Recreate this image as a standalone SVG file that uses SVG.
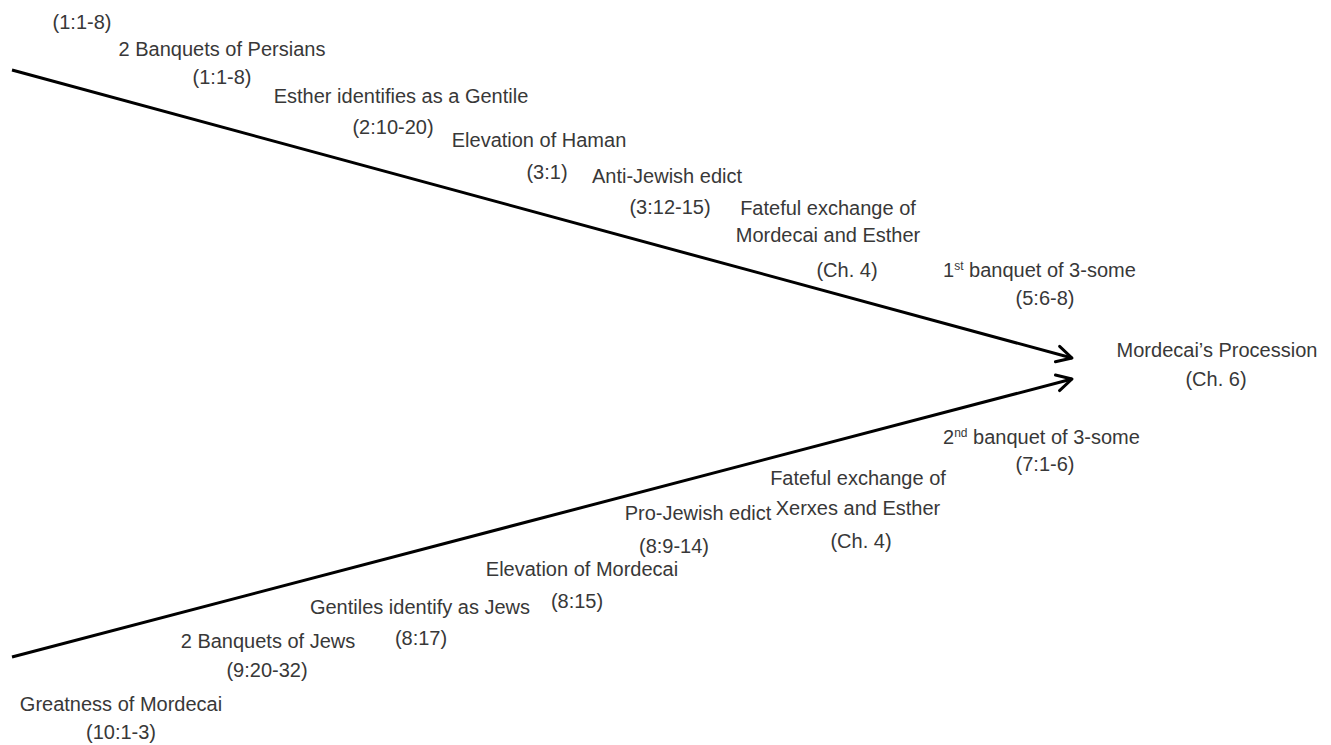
<svg xmlns="http://www.w3.org/2000/svg" width="1331" height="745" viewBox="0 0 1331 745">
<style>
text{font-family:"Liberation Sans",Arial,sans-serif;font-size:20px;fill:#383838;text-anchor:middle;}
.st{text-anchor:start;}
.ln{stroke:#000;stroke-width:3;fill:none;}
.sup{font-size:12px;}
</style>
<defs>
<marker id="arr" markerUnits="userSpaceOnUse" viewBox="-18 -10 20 20" refX="0" refY="0" markerWidth="20" markerHeight="20" orient="auto">
<path d="M-15,-8 L0,0 L-15,8" fill="none" stroke="#000" stroke-width="3" stroke-linecap="round" stroke-linejoin="round"/>
</marker>
</defs>
<rect width="1331" height="745" fill="#fff"/>
<g id="connectors">
<line class="ln" x1="12" y1="70" x2="1072" y2="358" marker-end="url(#arr)"/>
<line class="ln" x1="12" y1="657" x2="1072" y2="379" marker-end="url(#arr)"/>
</g>
<g id="n0"><text x="82" y="29">(1:1-8)</text></g>
<g id="n1"><text x="222" y="56">2 Banquets of Persians</text><text x="222" y="84">(1:1-8)</text></g>
<g id="n2"><text x="401" y="103">Esther identifies as a Gentile</text><text x="393" y="134">(2:10-20)</text></g>
<g id="n3"><text x="539" y="147">Elevation of Haman</text><text x="547" y="179">(3:1)</text></g>
<g id="n4"><text x="667" y="183">Anti-Jewish edict</text><text x="670" y="214">(3:12-15)</text></g>
<g id="n5"><text x="828" y="215">Fateful exchange of</text><text x="828" y="242">Mordecai and Esther</text><text x="847" y="277">(Ch. 4)</text></g>
<g id="n6"><text class="st" x="943" y="277">1<tspan class="sup" dy="-7">st</tspan><tspan dy="7"> banquet of 3-some</tspan></text><text x="1045" y="305">(5:6-8)</text></g>
<g id="n7"><text x="1217" y="357">Mordecai’s Procession</text><text x="1216" y="386">(Ch. 6)</text></g>
<g id="n8"><text class="st" x="943" y="444">2<tspan class="sup" dy="-7">nd</tspan><tspan dy="7"> banquet of 3-some</tspan></text><text x="1045" y="471">(7:1-6)</text></g>
<g id="n9"><text x="858" y="485">Fateful exchange of</text><text x="858" y="515">Xerxes and Esther</text><text x="861" y="548">(Ch. 4)</text></g>
<g id="n10"><text x="698" y="520">Pro-Jewish edict</text><text x="674" y="553">(8:9-14)</text></g>
<g id="n11"><text x="582" y="576">Elevation of Mordecai</text><text x="577" y="608">(8:15)</text></g>
<g id="n12"><text x="420" y="614">Gentiles identify as Jews</text><text x="421" y="645">(8:17)</text></g>
<g id="n13"><text x="268" y="648">2 Banquets of Jews</text><text x="267" y="677">(9:20-32)</text></g>
<g id="n14"><text x="121" y="711">Greatness of Mordecai</text><text x="121" y="739">(10:1-3)</text></g>
</svg>
